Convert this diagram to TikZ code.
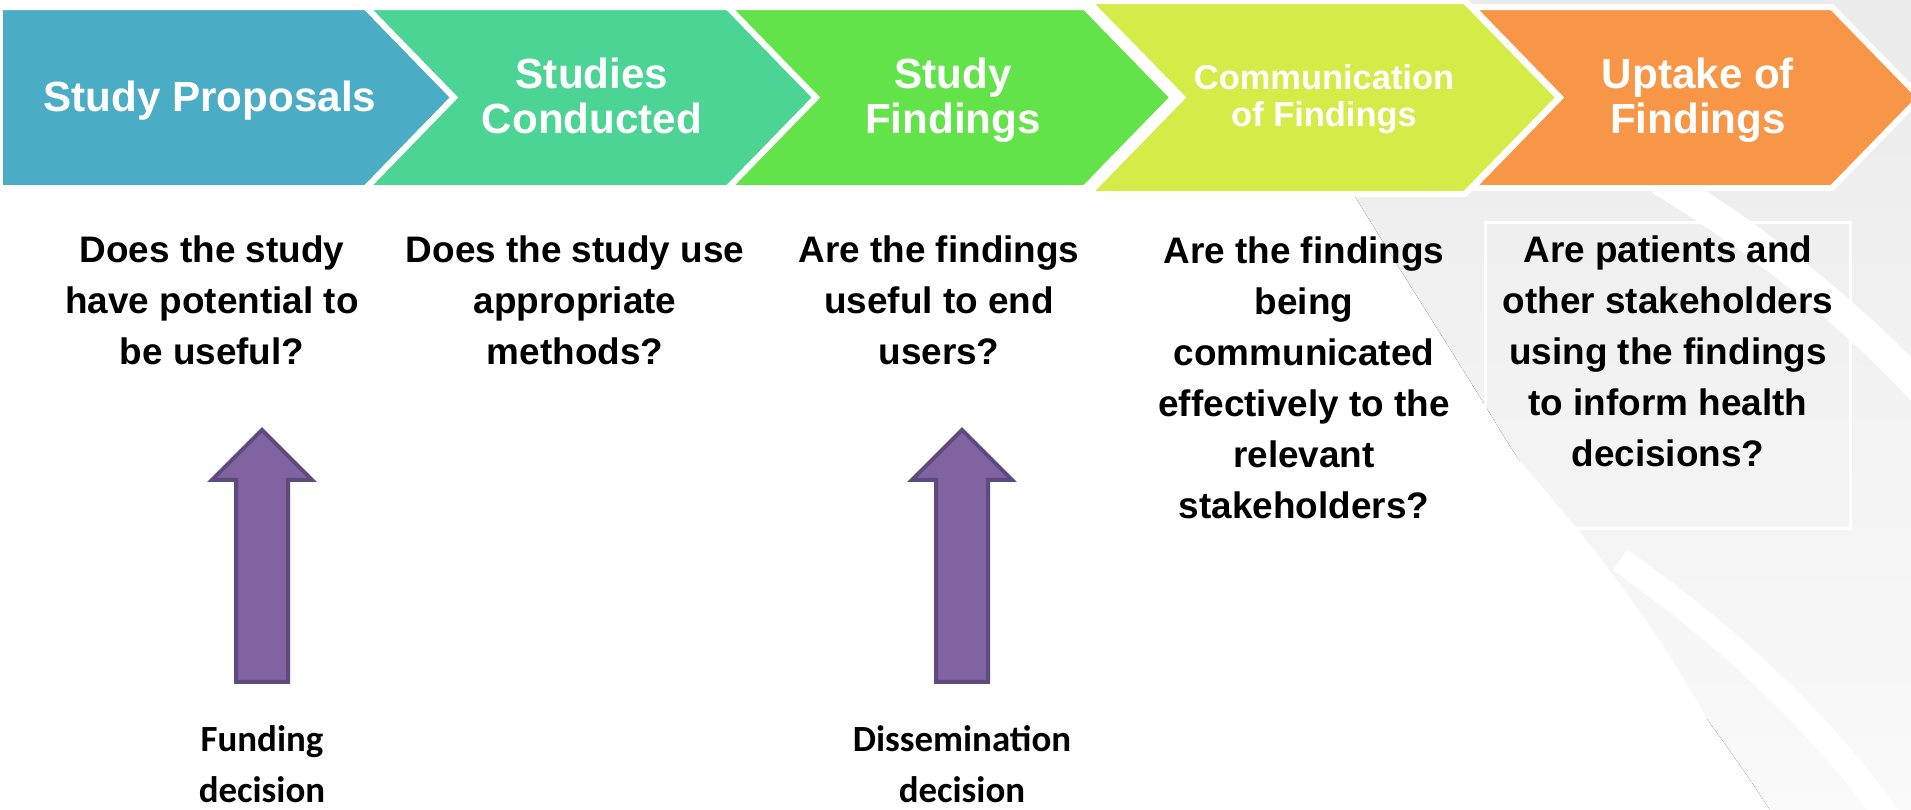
\documentclass[tikz,border=0pt]{standalone}
\usepackage{fontspec}
\setmainfont{Liberation Sans}
\newfontfamily\calibri{Carlito}
\usetikzlibrary{calc}
\definecolor{chevA}{HTML}{4BACC6}
\definecolor{chevB}{HTML}{4BD493}
\definecolor{chevC}{HTML}{63E34A}
\definecolor{chevD}{HTML}{D4EC48}
\definecolor{chevE}{HTML}{F79646}
\definecolor{arrowfill}{HTML}{8064A2}
\definecolor{arrowline}{HTML}{5F4A7F}
\tikzset{
  chev/.style={draw=white,line width=0.6mm,line join=miter},
  ttl/.style={text=white,font=\bfseries\fontsize{12}{12.8}\selectfont,align=center,inner sep=0pt},
  ttlsmall/.style={text=white,font=\bfseries\fontsize{9.8}{10.4}\selectfont,align=center,inner sep=0pt},
  qst/.style={font=\bfseries\fontsize{10.5}{14.5}\selectfont,align=center,inner sep=0pt},
  dec/.style={font=\calibri\bfseries\fontsize{10.5}{14.4}\selectfont,align=center,inner sep=0pt},
  blockarrow/.style={fill=arrowfill,draw=arrowline,line width=0.4mm,line join=miter},
  swoosh/.style={top color=black!8,bottom color=black!2,draw=none}
}
\begin{document}
\begin{tikzpicture}[x=0.1mm,y=-0.1mm]
\useasboundingbox (0,0) rectangle (1911,810);
\fill[white] (0,0) rectangle (1911,810);
%BACKGROUND
\fill[swoosh] (1240,0) .. controls (1340,180) and (1440,330) .. (1500,430) .. controls (1580,560) and (1700,700) .. (1770,810) -- (1911,810) -- (1911,0) -- cycle;
\draw[white,line width=3mm] (1660,180) .. controls (1760,240) and (1860,320) .. (1940,410);
\draw[white,line width=1.5mm] (1500,450) .. controls (1580,540) and (1660,640) .. (1720,760);
\draw[white,line width=2.5mm] (1620,560) .. controls (1720,630) and (1820,720) .. (1890,820);
%	\draw[white,line width=1mm] (1740,380) .. controls (1820,460) and (1880,540) .. (1930,600);
\draw[white,line width=0.3mm] (1485,222) rectangle (1850,528);

%CHEVRONS
\draw[chev,fill=chevA] (0,7) -- (366,7) -- (454,97.5) -- (366,188) -- (0,188) -- cycle;
\draw[chev,fill=chevB] (366,7) -- (728,7) -- (816,97.5) -- (728,188) -- (366,188) -- (454,97.5) -- cycle;
\draw[chev,fill=chevC] (728,7) -- (1085,7) -- (1173,97.5) -- (1085,188) -- (728,188) -- (816,97.5) -- cycle;
\draw[chev,fill=chevE] (1472,7) -- (1832,7) -- (1920,97.5) -- (1832,188) -- (1472,188) -- (1560,97.5) -- cycle;
\draw[chev,fill=chevD] (1088,1) -- (1465,1) -- (1559,97.5) -- (1465,194) -- (1088,194) -- (1182,97.5) -- cycle;

\node[ttl] (prop) at (210,101) {Study Proposals};
\node[ttl] (cond) at (592,96) {Studies\\Conducted};
\node[ttl] (find) at (953,100) {Study\\Findings};
\node[ttlsmall] (comm) at (1324,99) {Communication\\of Findings};
\node[ttl] (upt) at (1698,100) {Uptake of\\Findings};

%QUESTIONS
\node[qst] (q1) at (212,300) {Does the study\\have potential to\\be useful?};
\node[qst] (q2) at (575,300) {Does the study use\\appropriate\\methods?};
\node[qst] (q3) at (939,300) {Are the findings\\useful to end\\users?};
\node[qst] (q4) at (1304,378) {Are the findings\\being\\communicated\\effectively to the\\relevant\\stakeholders?};
\node[qst] (q5) at (1668,351) {Are patients and\\other stakeholders\\using the findings\\to inform health\\decisions?};

%DECISIONS
\node[dec] (fund) at (262,764) {Funding\\decision};
\node[dec] (diss) at (962,764) {Dissemination\\decision};
\draw[blockarrow] ($(fund.north)+(-26,-43)$) -- ++(0,-202) -- ++(-24,0) -- ++(50,-50) -- ++(50,50) -- ++(-24,0) -- ++(0,202) -- cycle;
\draw[blockarrow] ($(diss.north)+(-26,-43)$) -- ++(0,-202) -- ++(-24,0) -- ++(50,-50) -- ++(50,50) -- ++(-24,0) -- ++(0,202) -- cycle;
\end{tikzpicture}
\end{document}
